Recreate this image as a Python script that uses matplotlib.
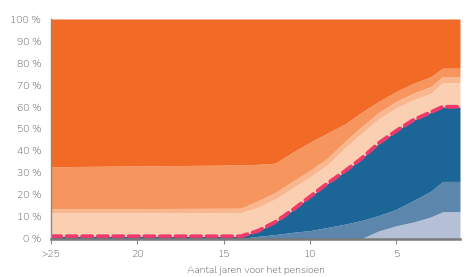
import numpy as np
import matplotlib
matplotlib.use("Agg")
import matplotlib.pyplot as plt
from matplotlib.ticker import FuncFormatter

# years before pension (x) and cumulative layer tops in %
years = [25, 14, 13, 12, 11, 10, 9, 8, 7, 6, 5, 4, 3, 2.3, 1.3]
light_blue = [0, 0, 0, 0, 0, 0, 0, 0, 0, 3.5, 5.8, 7.5, 9.8, 12.2, 12.2]
mid_blue = [0, 0, 1, 1.8, 2.8, 3.6, 5, 6.5, 8.2, 10.5, 13.3, 17.3, 21.5, 26, 26]
dark_blue = [1, 1, 3.5, 7.5, 13, 19, 25, 30.5, 36.5, 43.5, 49, 54, 57.5, 60, 60]
peach_light = [11.8, 11.8, 14.2, 18, 23, 28, 33.5, 41, 48, 54.5, 59.5, 63.2, 66.1, 71, 71]
peach_band = [13.5, 13.8, 17.2, 21, 26, 31, 36.5, 44, 51, 57.5, 62.5, 66.2, 69.2, 73.8, 73.8]
peach_mid = [32.7, 33.5, 33.8, 34.3, 39.3, 43.8, 48, 52, 57.5, 62.5, 67, 70.7, 73.7, 77.6, 77.6]
top = [100] * len(years)

xticks = [25, 20, 15, 10, 5]
xtick_labels = [">25", "20", "15", "10", "5"]

plt.rcParams["font.family"] = ["Nunito", "Lato", "DejaVu Sans"]

fig = plt.figure(figsize=(4.66, 2.77), dpi=100)
ax = fig.add_axes([51 / 466, 38.5 / 277, 409 / 466, 219.5 / 277])

layers = [
    (np.zeros(len(years)), light_blue, "#b3c0d6"),
    (light_blue, mid_blue, "#5d86ad"),
    (mid_blue, dark_blue, "#1b6697"),
    (dark_blue, peach_light, "#fbd0b2"),
    (peach_light, peach_band, "#f9b78f"),
    (peach_band, peach_mid, "#f7955f"),
    (peach_mid, top, "#f26b26"),
]
for lo, hi, c in layers:
    ax.fill_between(years, lo, hi, color=c, lw=0, zorder=1)

ax.plot(years, dark_blue, color="#ec3a6b", lw=2.8, dashes=(2.6, 1.4),
        dash_capstyle="round", zorder=3)

ax.set_xlim(25, 1.3)
ax.set_ylim(0, 100)
ax.set_xticks(xticks)
ax.set_xticklabels(xtick_labels)
ax.set_yticks(range(0, 101, 10))
ax.yaxis.set_major_formatter(FuncFormatter(lambda v, p: f"{int(v)} %"))

ax.tick_params(axis="y", length=0, pad=7, labelsize=7.5, labelcolor="#555555")
ax.tick_params(axis="x", length=3.5, width=0.8, color="#888888", pad=5,
               labelsize=7.5, labelcolor="#555555")

for s in ["top", "right"]:
    ax.spines[s].set_visible(False)
ax.spines["left"].set_color("#8a8a8a")
ax.spines["left"].set_linewidth(1)
ax.spines["bottom"].set_color("#7a7a7a")
ax.spines["bottom"].set_linewidth(1.8)
for s in ax.spines.values():
    s.set_zorder(4)

ax.set_xlabel("Aantal jaren voor het pensioen", fontsize=7.5, color="#555555",
              labelpad=5)

fig.savefig("out.png", dpi=100)
